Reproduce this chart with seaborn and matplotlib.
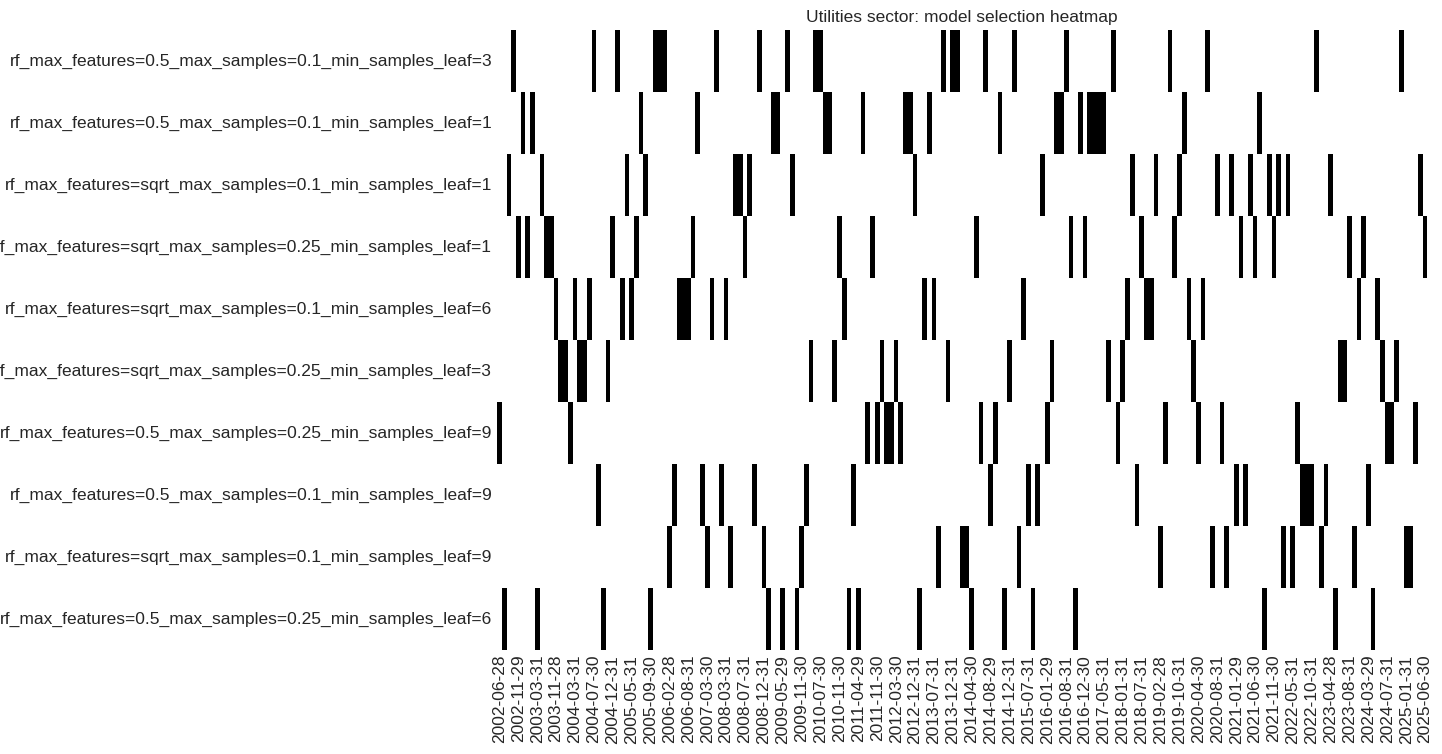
import numpy as np
import pandas as pd
import matplotlib
matplotlib.use("Agg")
import matplotlib.pyplot as plt
import seaborn as sns

models = [
    "rf_max_features=0.5_max_samples=0.1_min_samples_leaf=3",
    "rf_max_features=0.5_max_samples=0.1_min_samples_leaf=1",
    "rf_max_features=sqrt_max_samples=0.1_min_samples_leaf=1",
    "rf_max_features=sqrt_max_samples=0.25_min_samples_leaf=1",
    "rf_max_features=sqrt_max_samples=0.1_min_samples_leaf=6",
    "rf_max_features=sqrt_max_samples=0.25_min_samples_leaf=3",
    "rf_max_features=0.5_max_samples=0.25_min_samples_leaf=9",
    "rf_max_features=0.5_max_samples=0.1_min_samples_leaf=9",
    "rf_max_features=sqrt_max_samples=0.1_min_samples_leaf=9",
    "rf_max_features=0.5_max_samples=0.25_min_samples_leaf=6",
]

tick_labels = [
    "2002-06-28", "2002-11-29", "2003-03-31", "2003-11-28", "2004-03-31", "2004-07-30",
    "2004-12-31", "2005-05-31", "2005-09-30", "2006-02-28", "2006-08-31", "2007-03-30",
    "2008-03-31", "2008-07-31", "2008-12-31", "2009-05-29", "2009-11-30", "2010-07-30",
    "2010-11-30", "2011-04-29", "2011-11-30", "2012-03-30", "2012-12-31", "2013-07-31",
    "2013-12-31", "2014-04-30", "2014-08-29", "2014-12-31", "2015-07-31", "2016-01-29",
    "2016-08-31", "2016-12-30", "2017-05-31", "2018-01-31", "2018-07-31", "2019-02-28",
    "2019-10-31", "2020-04-30", "2020-08-31", "2021-01-29", "2021-06-30", "2021-11-30",
    "2022-05-31", "2022-10-31", "2023-04-28", "2023-08-31", "2024-03-29", "2024-07-31",
    "2025-01-31", "2025-06-30",
]

# selected model (row index) for each rebalancing date (column)
selected = [
    6, 9, 2, 0, 3, 1, 3, 1, 9, 2, 3, 3, 4, 5, 5, 6, 4, 5, 5, 4,
    0, 7, 9, 5, 3, 0, 4, 2, 4, 3, 1, 2, 9, 0, 0, 0, 8, 7, 4, 4,
    4, 3, 1, 7, 8, 4, 0, 7, 4, 8, 2, 2, 3, 2, 7, 0, 8, 9, 1, 1,
    9, 0, 2, 9, 8, 7, 5, 0, 0, 1, 1, 5, 3, 4, 9, 7, 9, 1, 6, 3,
    6, 5, 6, 6, 5, 6, 1, 1, 2, 9, 4, 1, 4, 8, 0, 5, 0, 0, 8, 8,
    9, 3, 6, 0, 7, 6, 1, 9, 5, 0, 8, 4, 7, 9, 7, 2, 6, 5, 1, 1,
    0, 3, 9, 1, 3, 1, 1, 1, 1, 5, 0, 6, 5, 4, 2, 7, 3, 4, 4, 2,
    8, 6, 0, 3, 2, 1, 4, 5, 6, 4, 0, 8, 2, 6, 8, 2, 7, 3, 7, 2,
    3, 1, 9, 2, 3, 2, 8, 2, 8, 6, 7, 7, 7, 0, 8, 7, 2, 9, 5, 5,
    3, 8, 4, 3, 7, 9, 4, 5, 6, 6, 5, 0, 8, 8, 6, 2, 3,
]

n_cols = len(selected)
mat = np.zeros((len(models), n_cols))
mat[selected, np.arange(n_cols)] = 1
df = pd.DataFrame(mat, index=models)

sns.set_theme(style="white")
plt.rcParams["font.family"] = ["Liberation Sans", "DejaVu Sans"]
fig = plt.figure(figsize=(14.42, 7.54), dpi=100)
ax = fig.add_axes([0.3447, 0.138, 0.6452, 0.822])
sns.heatmap(df, ax=ax, cmap=["white", "black"], cbar=False,
            xticklabels=False, yticklabels=True)
step = 4
ax.set_xticks(np.arange(0, step * len(tick_labels), step) + 0.5)
ax.set_xticklabels(tick_labels, rotation=90, fontsize=12.5)
ax.set_yticklabels(models, rotation=0, fontsize=12.5)
ax.tick_params(axis="both", length=0)
ax.set_title("Utilities sector: model selection heatmap", fontsize=12.5)
fig.savefig("out.png", dpi=100)
